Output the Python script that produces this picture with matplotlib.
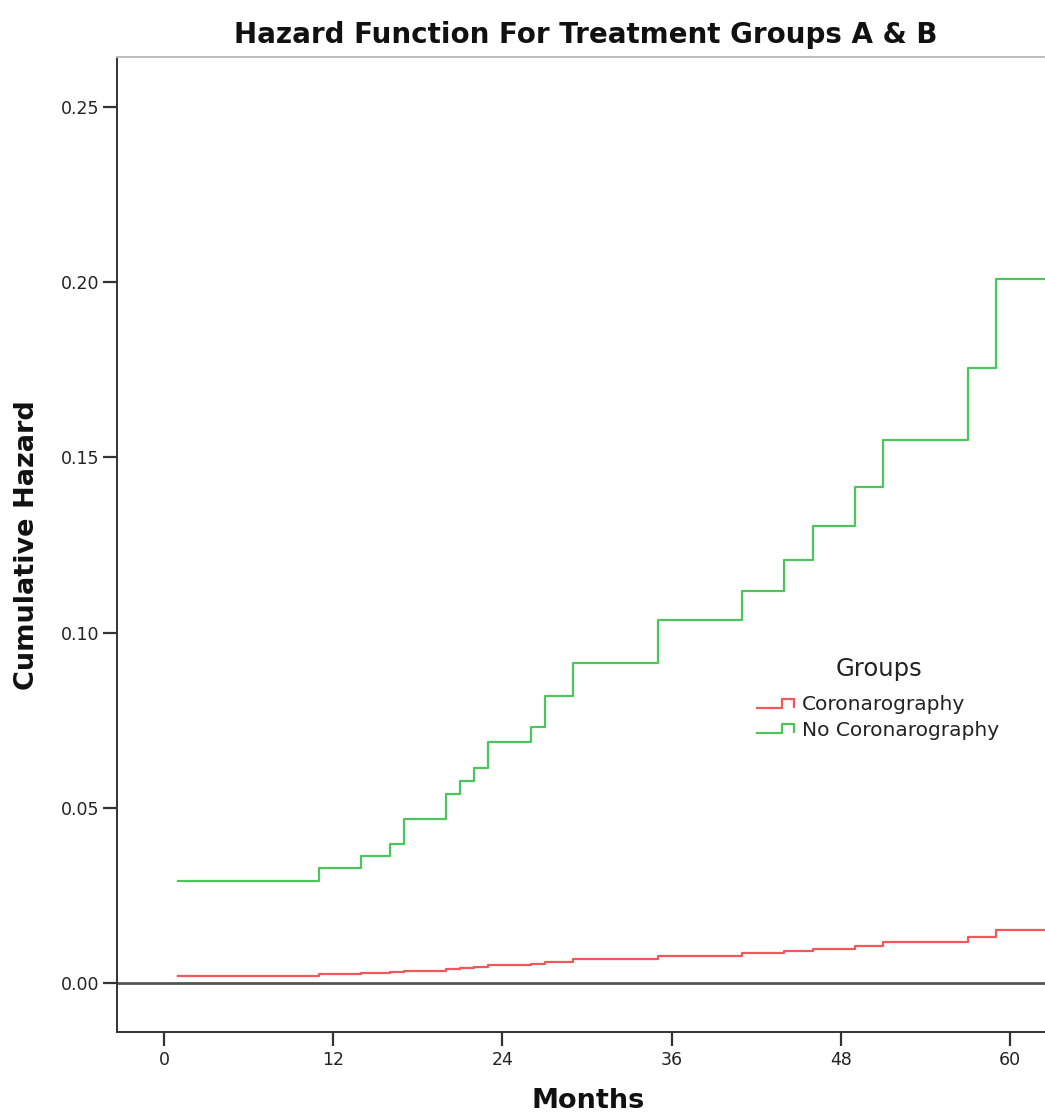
import matplotlib
matplotlib.use("Agg")
import matplotlib.pyplot as plt
from matplotlib.lines import Line2D

# ---- data ----
times = [1, 11, 14, 16, 17, 20, 21, 22, 23, 26, 27, 29, 35, 41, 44, 46, 49, 51, 57, 59]
end_time = 64
no_coro = [0.0292, 0.0328, 0.0362, 0.0397, 0.0468, 0.0540, 0.0576, 0.0613, 0.0688, 0.0731,
           0.0819, 0.0913, 0.1036, 0.1118, 0.1208, 0.1304, 0.1416, 0.1551, 0.1756, 0.2009]
coro = [0.0021, 0.0025, 0.0028, 0.0030, 0.0035, 0.0040, 0.0043, 0.0046, 0.0052, 0.0055,
        0.0061, 0.0069, 0.0078, 0.0086, 0.0092, 0.0098, 0.0106, 0.0116, 0.0132, 0.0151]
series_names = ["Coronarography", "No Coronarography"]
x_ticks = [0, 12, 24, 36, 48, 60]
y_ticks = [0.00, 0.05, 0.10, 0.15, 0.20, 0.25]

RED = "#F2575C"
GREEN = "#4CC65A"
DARK = "#333333"
W, H = 1045, 1115

fig = plt.figure(figsize=(W / 100, H / 100), dpi=100)
ax = fig.add_axes([117 / W, 83 / H, (164 + end_time * 14.1 - 117) / W, 975 / H])

xs = times + [end_time]
ax.step(xs, coro + [coro[-1]], where="post", color=RED, lw=1.6)
ax.step(xs, no_coro + [no_coro[-1]], where="post", color=GREEN, lw=1.6)
ax.axhline(0, color="#555555", lw=2.0, zorder=1)

ax.set_xlim(-47 / 14.1, end_time)
ax.set_ylim(-49 / 3504, 926 / 3504)
ax.set_xticks(x_ticks)
ax.set_yticks(y_ticks)
ax.set_xticklabels([str(t) for t in x_ticks])
ax.set_yticklabels([f"{v:.2f}" for v in y_ticks])
ax.tick_params(axis="both", direction="out", length=10, width=1.6, color=DARK,
               labelsize=12.5, labelcolor="#222222")
ax.tick_params(axis="y", pad=3)
ax.tick_params(axis="x", pad=4)

for s in ["left", "bottom"]:
    ax.spines[s].set_color(DARK)
    ax.spines[s].set_linewidth(1.4)
ax.spines["top"].set_color("#BBBBBB")
ax.spines["top"].set_linewidth(1.4)
ax.spines["right"].set_visible(False)

fig.text(586 / W, 1 - 35 / H, "Hazard Function For Treatment Groups A & B",
         ha="center", va="center", fontsize=20, fontweight="bold", color="#111111")
fig.text(588 / W, 1 - 1101 / H, "Months", ha="center", va="center",
         fontsize=19.5, fontweight="bold", color="#111111")
fig.text(27 / W, 1 - 545 / H, "Cumulative Hazard", ha="center", va="center",
         rotation=90, fontsize=19.5, fontweight="bold", color="#111111")

# ---- legend (drawn in figure pixel coordinates) ----
fig.text(879 / W, 1 - 669 / H, "Groups", ha="center", va="center",
         fontsize=17.5, color="#222222")
legend_rows = [(series_names[0], RED, 705), (series_names[1], GREEN, 730)]
for name, col, yc in legend_rows:
    hx = [757, 782, 782, 794, 794]
    hy = [yc + 3, yc + 3, yc - 6, yc - 6, yc + 2]
    fig.add_artist(Line2D([x / W for x in hx], [1 - y / H for y in hy],
                          color=col, lw=1.6, transform=fig.transFigure))
    fig.text(802 / W, 1 - yc / H, name, ha="left", va="center",
             fontsize=14.5, color="#222222")

fig.savefig("out.png", dpi=100)
